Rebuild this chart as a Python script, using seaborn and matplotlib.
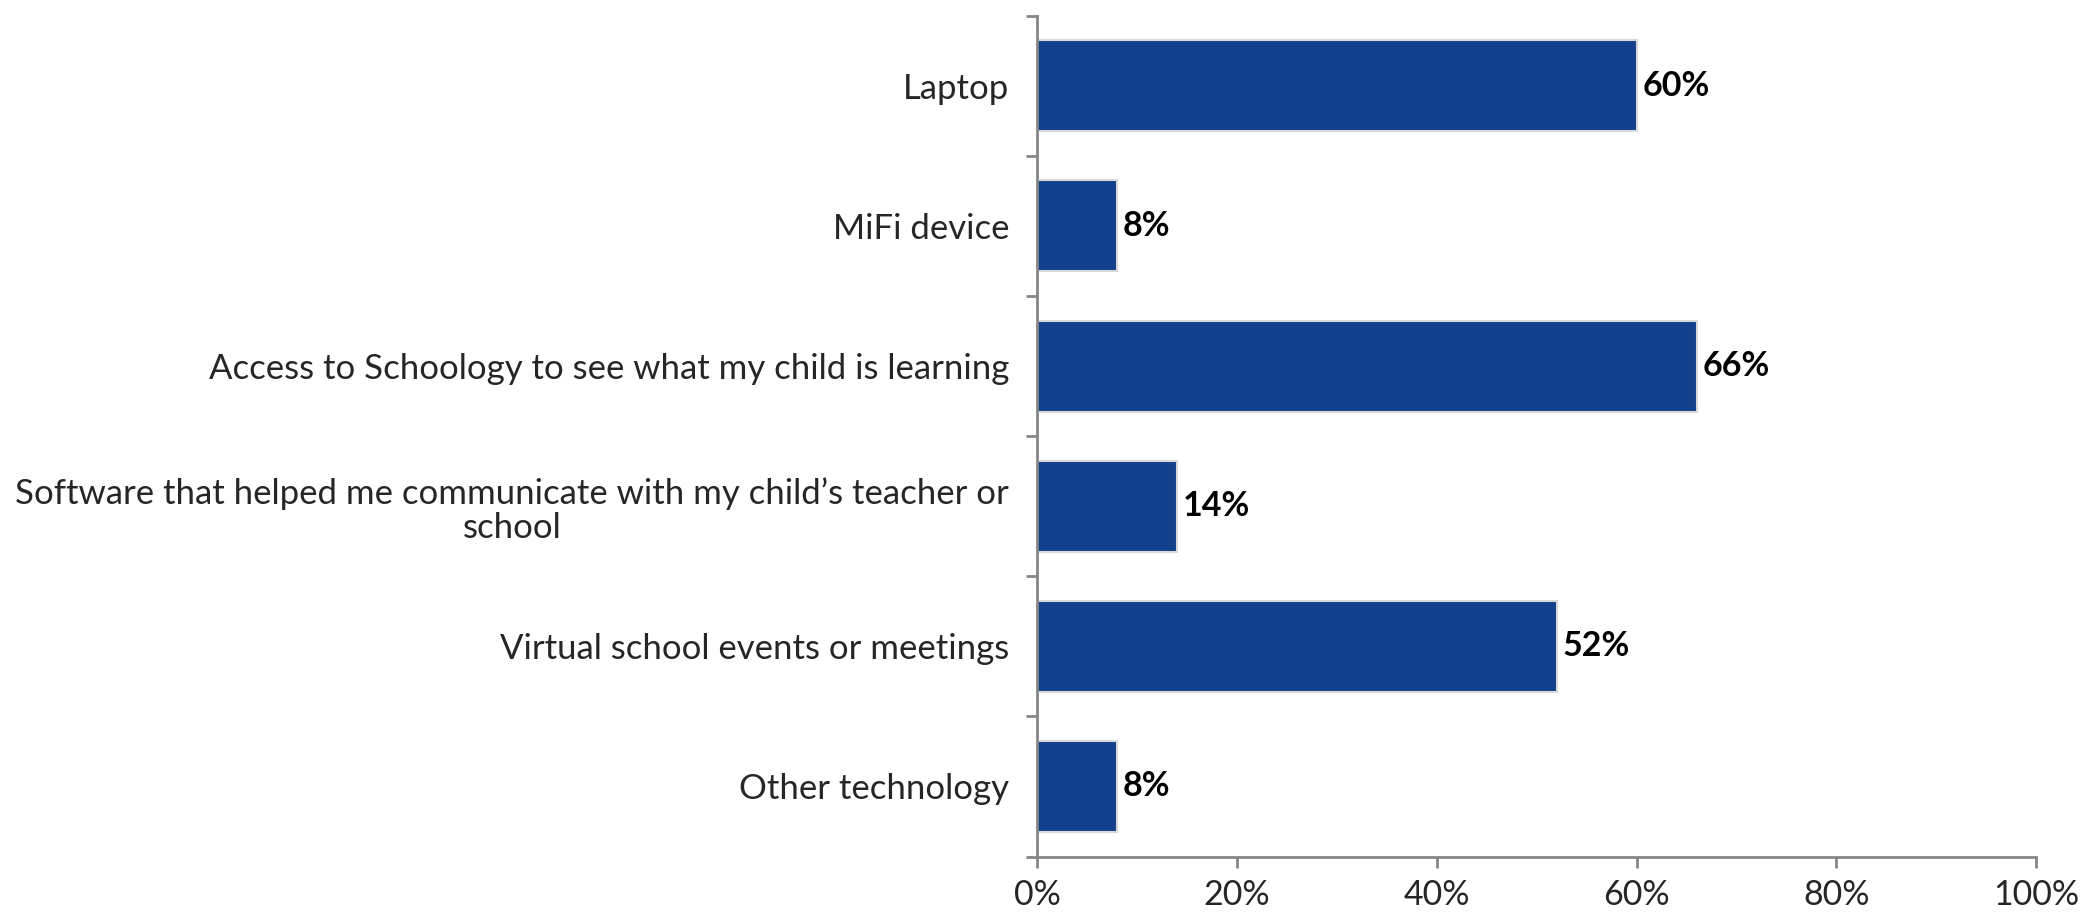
import matplotlib
matplotlib.use('Agg')
import matplotlib.pyplot as plt
import seaborn as sns
import pandas as pd
import numpy as np

# chart values
categories = [
    'Laptop',
    'MiFi device',
    'Access to Schoology to see what my child is learning',
    'Software that helped me communicate with my child\u2019s teacher or\nschool',
    'Virtual school events or meetings',
    'Other technology',
]
values = [60, 8, 66, 14, 52, 8]
x_ticks = [0, 20, 40, 60, 80, 100]

df = pd.DataFrame({'category': categories, 'value': values})

sns.set_style('white')
plt.rcParams['font.family'] = ['Lato', 'DejaVu Sans']

fig = plt.figure(figsize=(20.95, 9.23), dpi=100)
ax = fig.add_axes([0.495, 0.072, 0.477, 0.911])

sns.barplot(data=df, x='value', y='category', color='#12408A', saturation=1,
            width=0.65, edgecolor='#D9D9D9', linewidth=1.5, ax=ax)

# value labels
for i, v in enumerate(values):
    ax.text(v + 0.6, i, f'{v}%', va='center', ha='left', fontsize=24.5,
            fontweight='bold', color='black')

ax.set_xlim(0, 100)
ax.set_ylim(len(categories) - 0.5, -0.5)
ax.set_xticks(x_ticks)
ax.set_xticklabels([f'{t}%' for t in x_ticks], fontsize=24.5)
ax.set_xlabel('')
ax.set_ylabel('')

# category labels without tick marks, tick marks at the boundaries
ax.set_yticks(range(len(categories)))
ax.set_yticklabels(categories, fontsize=25, ha='right', multialignment='center',
                   linespacing=1.1)
ax.set_yticks(np.arange(-0.5, len(categories), 1), minor=True)
ax.tick_params(axis='y', which='major', left=True, length=0, pad=20)
ax.tick_params(axis='y', which='minor', left=True, length=8, width=2,
               color='#868686', direction='out')
ax.tick_params(axis='x', which='major', bottom=True, length=8, width=2,
               color='#868686', direction='out', pad=8)

for side in ['top', 'right']:
    ax.spines[side].set_visible(False)
for side in ['left', 'bottom']:
    ax.spines[side].set_color('#868686')
    ax.spines[side].set_linewidth(2)

fig.savefig('out.png', dpi=100)
